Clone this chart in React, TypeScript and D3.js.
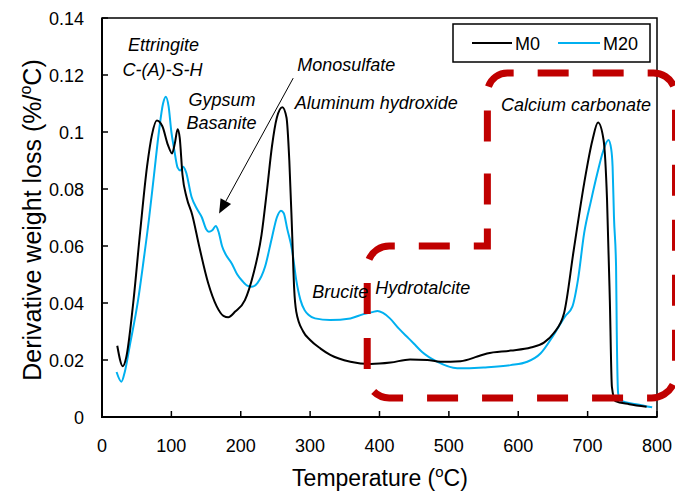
import React from "react";
import * as d3 from "d3";

const X_TICKS = [0, 100, 200, 300, 400, 500, 600, 700, 800];
const Y_TICKS = [0, 0.02, 0.04, 0.06, 0.08, 0.1, 0.12, 0.14];
const Y_TICK_LABELS = ["0", "0.02", "0.04", "0.06", "0.08", "0.1", "0.12", "0.14"];
const SERIES_NAMES = ["M0", "M20"];

const M0_T = [22, 30, 35, 45, 55, 65, 72, 79, 87, 95, 101, 105, 109, 112, 116, 122, 130, 140, 153, 165, 175, 182, 192, 206, 218, 230, 238, 245, 252, 260, 266, 270, 274, 277, 280, 290, 300, 315, 329, 358, 387, 416, 444, 469, 488, 517, 541, 555, 589, 618, 637, 651, 666, 680, 695, 707, 715, 723, 728, 732, 735, 740, 760, 785];
const M0_V = [0.025, 0.0178, 0.021, 0.04, 0.065, 0.088, 0.099, 0.104, 0.102, 0.0955, 0.0925, 0.096, 0.101, 0.098, 0.085, 0.077, 0.071, 0.06, 0.047, 0.039, 0.0355, 0.035, 0.037, 0.041, 0.05, 0.064, 0.08, 0.095, 0.105, 0.1087, 0.105, 0.09, 0.065, 0.045, 0.037, 0.03, 0.027, 0.024, 0.0218, 0.0194, 0.0186, 0.0191, 0.0202, 0.02, 0.0194, 0.0196, 0.0212, 0.0223, 0.0233, 0.0244, 0.0261, 0.0294, 0.0364, 0.0586, 0.082, 0.0972, 0.1033, 0.0972, 0.0761, 0.041, 0.0106, 0.0056, 0.0045, 0.0036];

const M20_T = [21, 28, 33, 40, 52, 60, 68, 75, 82, 88, 92, 96, 100, 104, 109, 113, 117, 121, 129, 137, 144, 150, 154, 159, 164, 168, 173, 178, 187, 195, 202, 210, 216, 224, 235, 245, 252, 258, 262, 267, 274, 280, 286, 292, 298, 307, 329, 358, 377, 390, 397, 405, 415, 428, 442, 449, 461, 483, 512, 550, 589, 613, 632, 651, 668, 678, 686, 695, 705, 714, 722, 730, 734, 736, 738, 741, 742, 744, 748, 770, 793];
const M20_V = [0.0158, 0.0124, 0.016, 0.025, 0.041, 0.055, 0.07, 0.085, 0.1, 0.11, 0.1124, 0.109, 0.1, 0.094, 0.0875, 0.0865, 0.0878, 0.086, 0.0773, 0.073, 0.07, 0.066, 0.065, 0.0655, 0.067, 0.065, 0.06, 0.0572, 0.0539, 0.05, 0.0478, 0.046, 0.0457, 0.047, 0.0527, 0.063, 0.07, 0.0724, 0.0715, 0.066, 0.0586, 0.048, 0.0411, 0.0375, 0.0358, 0.0346, 0.034, 0.0346, 0.0361, 0.0368, 0.0372, 0.0365, 0.0346, 0.031, 0.0276, 0.0259, 0.0229, 0.0194, 0.0171, 0.0174, 0.0182, 0.0194, 0.0223, 0.0288, 0.0355, 0.0387, 0.048, 0.0645, 0.076, 0.0855, 0.093, 0.0972, 0.094, 0.0878, 0.07, 0.0527, 0.03, 0.0083, 0.0057, 0.0045, 0.0034];

const W = 675;
const H = 491;
const FONT = "'Liberation Sans', Arial, Helvetica, sans-serif";

export default function App() {
  const x = d3.scaleLinear().domain([0, 800]).range([102, 657]);
  const y = d3.scaleLinear().domain([0, 0.14]).range([417, 18]);

  const line = d3
    .line<[number, number]>()
    .x((d) => x(d[0]))
    .y((d) => y(d[1]))
    .curve(d3.curveMonotoneX);

  const m0 = line(M0_T.map((t, i) => [t, M0_V[i]] as [number, number])) || "";
  const m20 = line(M20_T.map((t, i) => [t, M20_V[i]] as [number, number])) || "";

  // red dashed highlight region (data units)
  const corners: [number, number, number][] = [
    [555.5, 0.1207, 20],
    [826.7, 0.1207, 22],
    [826.7, 0.0067, 24],
    [382.3, 0.0067, 22],
    [382.3, 0.06, 22],
    [555.5, 0.06, 0],
  ];
  const p = d3.path();
  const sx = x(555.5);
  const sy = (y(0.06) + y(0.1207)) / 2;
  p.moveTo(sx, sy);
  for (let i = 0; i < corners.length; i++) {
    const c = corners[i];
    const n = corners[(i + 1) % corners.length];
    if (c[2] > 0) p.arcTo(x(c[0]), y(c[1]), x(n[0]), y(n[1]), c[2]);
    else p.lineTo(x(c[0]), y(c[1]));
  }
  p.lineTo(sx, sy);

  // arrow
  const ax0 = x(275.6), ay0 = y(0.1189), ax1 = x(168.8), ay1 = y(0.0714);
  const dx = ax1 - ax0, dy = ay1 - ay0;
  const len = Math.sqrt(dx * dx + dy * dy);
  const ux = dx / len, uy = dy / len;
  const hl = 14, hw = 6;
  const bx = ax1 - ux * hl, by = ay1 - uy * hl;
  const head = `M${ax1},${ay1}L${bx - uy * hw},${by + ux * hw}L${bx + uy * hw},${by - ux * hw}Z`;

  const ann = { fontFamily: FONT, fontSize: 18, fontStyle: "italic" as const, fill: "#000" };

  return (
    <svg width={W} height={H} style={{ position: "absolute", left: 0, top: 0, background: "#fff" }}>
      <rect x={0} y={0} width={W} height={H} fill="#fff" />
      {/* frame */}
      <rect x={102} y={18} width={555} height={399} fill="none" stroke="#000" strokeWidth={1.5} />
      <line x1={102} y1={18} x2={102} y2={418} stroke="#000" strokeWidth={2} />
      <line x1={101} y1={417} x2={657} y2={417} stroke="#000" strokeWidth={2} />

      {/* ticks */}
      {X_TICKS.map((t) => (
        <g key={"x" + t}>
          <line x1={x(t)} x2={x(t)} y1={417} y2={411} stroke="#000" strokeWidth={1.5} />
          <text x={x(t)} y={452} textAnchor="middle" fontFamily={FONT} fontSize={18} fill="#000">
            {t}
          </text>
        </g>
      ))}
      {Y_TICKS.map((t, i) => (
        <g key={"y" + t}>
          <line x1={102} x2={108} y1={y(t)} y2={y(t)} stroke="#000" strokeWidth={1.5} />
          <text x={84} y={y(t) + 6.5} textAnchor="end" fontFamily={FONT} fontSize={18} fill="#000">
            {Y_TICK_LABELS[i]}
          </text>
        </g>
      ))}

      {/* axis titles */}
      <text x={380} y={486} textAnchor="middle" fontFamily={FONT} fontSize={23} fill="#000">
        Temperature (<tspan fontSize={15} dy={-9}>o</tspan>
        <tspan dy={9}>C)</tspan>
      </text>
      <text
        transform="translate(41,220) rotate(-90)"
        textAnchor="middle"
        fontFamily={FONT}
        fontSize={25}
        fill="#000"
      >
        Derivative weight loss (%/<tspan fontSize={16} dy={-10}>o</tspan>
        <tspan dy={10}>C)</tspan>
      </text>

      {/* curves */}
      <path d={m20} fill="none" stroke="#00B0F0" strokeWidth={2} />
      <path d={m0} fill="none" stroke="#000" strokeWidth={2} />

      {/* red dashed outline */}
      <path
        d={p.toString()}
        fill="none"
        stroke="#C00000"
        strokeWidth={7}
        strokeDasharray="31 24"
        strokeDashoffset={37}
      />

      {/* annotations */}
      <text {...ann} x={x(88.7)} y={y(0.1284)} textAnchor="middle">Ettringite</text>
      <text {...ann} x={x(87.3)} y={y(0.1196)} textAnchor="middle">C-(A)-S-H</text>
      <text {...ann} x={x(173)} y={y(0.1091)} textAnchor="middle">Gypsum</text>
      <text {...ann} x={x(172.4)} y={y(0.1011)} textAnchor="middle">Basanite</text>
      <text {...ann} x={x(352)} y={y(0.1214)} textAnchor="middle">Monosulfate</text>
      <text {...ann} x={x(395.3)} y={y(0.1081)} textAnchor="middle">Aluminum hydroxide</text>
      <text {...ann} x={x(683.2)} y={y(0.1074)} textAnchor="middle">Calcium carbonate</text>
      <text {...ann} x={x(303)} y={y(0.0418)} textAnchor="start">Brucite</text>
      <text {...ann} x={x(393.9)} y={y(0.0432)} textAnchor="start">Hydrotalcite</text>

      {/* arrow */}
      <line x1={ax0} y1={ay0} x2={bx} y2={by} stroke="#000" strokeWidth={1} />
      <path d={head} fill="#000" />

      {/* legend */}
      <rect x={453} y={24} width={197} height={38} fill="#fff" stroke="#000" strokeWidth={1.5} />
      <line x1={472} x2={512} y1={43} y2={43} stroke="#000" strokeWidth={2} />
      <text x={515} y={49.5} fontFamily={FONT} fontSize={18} fill="#000">{SERIES_NAMES[0]}</text>
      <line x1={558} x2={600} y1={43} y2={43} stroke="#00B0F0" strokeWidth={2} />
      <text x={603} y={49.5} fontFamily={FONT} fontSize={18} fill="#000">{SERIES_NAMES[1]}</text>
    </svg>
  );
}
